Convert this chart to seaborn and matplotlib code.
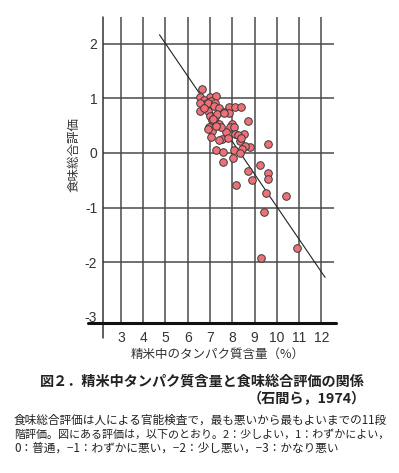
import matplotlib
matplotlib.use("Agg")
import matplotlib.pyplot as plt
import seaborn as sns
import pandas as pd

# ---- data ----
protein = [6.62, 6.57, 6.98, 7.27, 6.71, 6.87, 7.04, 6.57, 6.89, 7.24, 7.19, 7.40,
           7.87, 8.12, 8.39, 6.53, 6.89, 7.61, 7.87, 7.01, 7.21, 7.09, 8.69, 7.39,
           7.99, 6.94, 7.91, 8.09, 7.09, 7.73, 8.13, 8.54, 7.03, 7.52, 7.83, 8.36,
           8.27, 8.81, 9.59, 8.58, 8.45, 7.27, 7.58, 8.09, 8.33, 8.02, 7.57, 9.25,
           8.72, 9.59, 9.59, 8.89, 8.18, 9.51, 10.41, 9.42, 10.91, 9.28, 6.90, 7.31,
           7.13, 7.49, 8.37, 7.39, 7.25, 6.75, 7.64]
score = [1.18, 1.02, 1.02, 1.04, 0.97, 0.92, 0.95, 0.91, 0.91, 0.92, 0.86, 0.83,
         0.84, 0.84, 0.84, 0.77, 0.77, 0.75, 0.74, 0.68, 0.65, 0.60, 0.59, 0.53,
         0.53, 0.47, 0.47, 0.48, 0.41, 0.39, 0.35, 0.35, 0.30, 0.26, 0.27, 0.22,
         0.32, 0.11, 0.16, 0.12, 0.08, 0.05, 0.02, 0.05, -0.01, -0.10, -0.16, -0.22,
         -0.33, -0.37, -0.48, -0.50, -0.59, -0.74, -0.78, -1.08, -1.75, -1.92, 0.43, 0.71,
         0.63, 0.48, 0.28, 0.23, 0.49, 0.83, 0.74]
fit_x = [4.73, 12.17]
fit_y = [2.165, -2.28]

x_ticks = [3, 4, 5, 6, 7, 8, 9, 10, 11, 12]
y_ticks = [-3, -2, -1, 0, 1, 2]
y_grid = [-2, -1, 0, 1, 2]

xlabel = "精米中のタンパク質含量（%）"
ylabel = "食味総合評価"
title1 = "図２．精米中タンパク質含量と食味総合評価の関係"
title2 = "（石間ら，1974）"
caption = ["食味総合評価は人による官能検査で，最も悪いから最もよいまでの11段",
           "階評価。図にある評価は，以下のとおり。2：少しよい，1：わずかによい，",
           "0：普通，−1：わずかに悪い，−2：少し悪い，−3：かなり悪い"]
caption_sizes = [8.4, 7.95, 8.4]

df = pd.DataFrame({"protein": protein, "score": score})
fit = pd.DataFrame({"x": fit_x, "y": fit_y})

sns.set_style("white")
plt.rcParams['font.family'] = ['Liberation Sans', 'Noto Sans CJK JP', 'DejaVu Sans']
JP = ['Noto Sans CJK JP', 'DejaVu Sans']

W, H = 399, 473
fig = plt.figure(figsize=(W / 100, H / 100), dpi=100)
L, R, T, B = 102.7, 334, 17, 322.7
ax = fig.add_axes([L / W, 1 - B / H, (R - L) / W, (B - T) / H])

gcol = "#4a4a4a"
for xv in x_ticks:
    ax.axvline(xv, color=gcol, lw=1.1, zorder=1)
for yv in y_grid:
    ax.axhline(yv, color=gcol, lw=1.1, zorder=1)

sns.lineplot(data=fit, x="x", y="y", ax=ax, color="#222222", lw=0.8, zorder=2)
sns.scatterplot(data=df, x="protein", y="score", ax=ax, s=30, color="#f07078",
                edgecolor="#3a3a3a", linewidth=0.7, zorder=3)

ax.set_xlim(2.18, 12.57)
ax.set_ylim(-3.11, 2.49)
ax.set_xticks(x_ticks)
ax.set_yticks(y_ticks)
ax.set_xticklabels([str(v) for v in x_ticks])
ax.set_yticklabels([str(v) for v in y_ticks])
ax.tick_params(axis='both', length=0, labelsize=10, colors="#333333")
ax.tick_params(axis='y', pad=4)
ax.tick_params(axis='x', pad=6)
ax.set_xlabel("")
ax.set_ylabel("")
for s in ax.spines.values():
    s.set_visible(False)

# axis lines
ax.plot([0, 0], [-0.05, 1.0], transform=ax.transAxes, color="#333333", lw=1.1, clip_on=False, zorder=4)
ax.plot([-0.064, 1.01], [0, 0], transform=ax.transAxes, color="#111111", lw=2.2, clip_on=False, zorder=4)

fig.text(74 / W, 1 - 155 / H, ylabel, rotation=90, ha='center', va='center',
         fontsize=9, color="#333333", family=JP)
fig.text(218 / W, 1 - 354 / H, xlabel, ha='center', va='center', fontsize=9,
         color="#333333", family=JP)
fig.text(40 / W, 1 - 382 / H, title1, ha='left', va='center', fontsize=10.2,
         fontweight='bold', color="#222222", family=JP)
fig.text(366 / W, 1 - 399.5 / H, title2, ha='right', va='center', fontsize=10.2,
         fontweight='bold', color="#222222", family=JP)
for i, (line, fs) in enumerate(zip(caption, caption_sizes)):
    fig.text(14 / W, 1 - (420 + 14.2 * i) / H, line, ha='left', va='center',
             fontsize=fs, color="#222222", family=JP)

fig.savefig("out.png", dpi=100)
